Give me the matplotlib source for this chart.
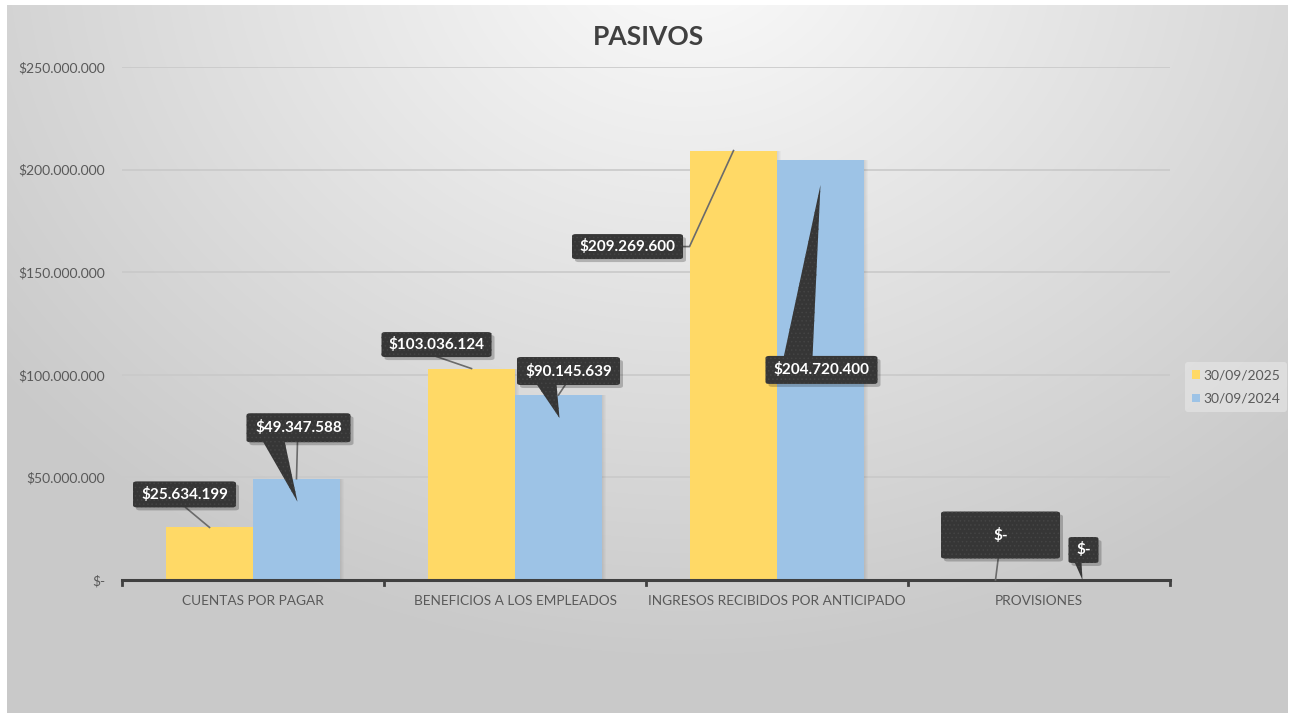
import numpy as np
import matplotlib
matplotlib.use("Agg")
import matplotlib.pyplot as plt
from matplotlib.patches import FancyBboxPatch, Polygon
from matplotlib.lines import Line2D
from matplotlib.ticker import FuncFormatter

# ---------------- data ----------------
categories = ["CUENTAS POR PAGAR", "BENEFICIOS A LOS EMPLEADOS",
              "INGRESOS RECIBIDOS POR ANTICIPADO", "PROVISIONES"]
series_names = ["30/09/2025", "30/09/2024"]
values_2025 = [25634199, 103036124, 209269600, 0]
values_2024 = [49347588, 90145639, 204720400, 0]
y_ticks = [0, 50000000, 100000000, 150000000, 200000000, 250000000]
title = "PASIVOS"

W, H = 1291, 714
DPI = 100
FONT = ["Lato", "DejaVu Sans"]
plt.rcParams["font.family"] = FONT
plt.rcParams["hatch.linewidth"] = 0.6

fig = plt.figure(figsize=(W / DPI, H / DPI), dpi=DPI)
fig.patch.set_facecolor("white")

# ---------------- background gradient ----------------
bg = fig.add_axes([7 / W, 1 / H, (1288 - 7) / W, (711 - 3) / H])
bg.set_axis_off()
yy, xx = np.mgrid[0:710, 0:1281]
d = np.sqrt(((xx - 680) / 1.2) ** 2 + ((yy + 60) * 1.0) ** 2)
val = 0.985 - d / 700 * 0.19
val = np.clip(val, 0.79, 0.98)
img = np.dstack([val, val, val])
bg.imshow(img, aspect="auto", extent=[0, 1, 0, 1], origin="upper")
bg.set_xlim(0, 1)
bg.set_ylim(0, 1)

# ---------------- main axes ----------------
ax_left, ax_right = 122, 1170
ax_top, ax_bottom = 67, 580
ax = fig.add_axes([ax_left / W, (H - ax_bottom) / H,
                   (ax_right - ax_left) / W, (ax_bottom - ax_top) / H])
ax.set_facecolor("none")
ax.patch.set_alpha(0)

x = np.arange(len(categories))
bw = 0.332
c_y = "#FFD966"
c_b = "#9DC3E6"

ax.set_xlim(-0.5, len(categories) - 0.5)
ax.set_ylim(0, 250000000)

for yt in y_ticks[1:]:
    ax.axhline(yt, color="#C9C9C9", lw=1.2, zorder=0)

# subtle shadows
for xi, v in zip(x - bw / 2, values_2025):
    if v > 0:
        for k in range(1, 5):
            ax.bar(xi + 0.004 * k, v, bw, color="black", alpha=0.025, zorder=1, lw=0)
for xi, v in zip(x + bw / 2, values_2024):
    if v > 0:
        for k in range(1, 5):
            ax.bar(xi + 0.004 * k, v, bw, color="black", alpha=0.025, zorder=1, lw=0)

b1 = ax.bar(x - bw / 2, values_2025, bw, color=c_y, label=series_names[0], zorder=2, lw=0)
b2 = ax.bar(x + bw / 2, values_2024, bw, color=c_b, label=series_names[1], zorder=2, lw=0)

for s in ["top", "right", "left"]:
    ax.spines[s].set_visible(False)
ax.spines["bottom"].set_color("#404040")
ax.spines["bottom"].set_linewidth(2.2)

ax.set_yticks(y_ticks)
ax.yaxis.set_major_formatter(FuncFormatter(
    lambda v, p: "$-" if v == 0 else "$" + f"{int(v):,}".replace(",", ".")))
ax.tick_params(axis="y", length=0, pad=12, labelsize=10, labelcolor="#595959")
ax.set_xticks(x)
ax.set_xticklabels(categories)
ax.tick_params(axis="x", length=0, pad=11, labelsize=9.8, labelcolor="#595959")
# category boundary ticks
for b in np.arange(-0.5, len(categories), 1.0):
    ax.plot([b, b], [0, -2200000], color="#404040", lw=2, clip_on=False, zorder=3)

fig.text(649 / W, 1 - 37 / H, title, ha="center", va="center",
         fontsize=19, fontweight="bold", color="#404040")

leg = ax.legend(handles=[b1, b2], loc="center left",
                bbox_to_anchor=(1178 / W, 1 - 387 / H), bbox_transform=fig.transFigure,
                frameon=True, fontsize=10, handlelength=0.6, handleheight=0.6,
                handletextpad=0.2, labelspacing=0.85, borderpad=0.5,
                labelcolor="#595959")
leg.get_frame().set_facecolor("#E8E8E8")
leg.get_frame().set_edgecolor("none")
leg.get_frame().set_alpha(0.6)

# ---------------- callouts ----------------
fig.canvas.draw()

def anchor_px(xv, v):
    dx, dy = ax.transData.transform((xv, v))
    return dx, H - dy

def to_fig(px, py):
    return px / W, 1 - py / H

BOX_FC = "#363636"
BOX_HC = "#444444"

def draw_box(cx, cy, w, h, text, fs=11):
    sh = FancyBboxPatch(to_fig(cx - w / 2 + 3, cy + h / 2 + 3),
                        w / W, h / H, boxstyle="round,pad=0,rounding_size=0.003",
                        transform=fig.transFigure, fc="black", ec="none",
                        alpha=0.22, zorder=20)
    fig.add_artist(sh)
    p = FancyBboxPatch(to_fig(cx - w / 2, cy + h / 2), w / W, h / H,
                       boxstyle="round,pad=0,rounding_size=0.003",
                       transform=fig.transFigure, fc=BOX_FC, ec=BOX_HC,
                       hatch="....", lw=0, zorder=21)
    fig.add_artist(p)
    fig.text(*to_fig(cx, cy), text, ha="center", va="center", color="white",
             fontsize=fs, fontweight="bold", zorder=23)

def draw_line(pts):
    xs = [p[0] / W for p in pts]
    ys = [1 - p[1] / H for p in pts]
    fig.add_artist(Line2D(xs, ys, color="#6b6b6b", lw=1.2, zorder=19,
                          transform=fig.transFigure))

def draw_wedge(pts):
    fig.add_artist(Polygon([to_fig(*p) for p in pts], closed=True,
                           transform=fig.transFigure, fc=BOX_FC, ec=BOX_HC,
                           hatch="....", lw=0, zorder=22))

def fmt(v):
    return "$-" if v == 0 else "$" + f"{int(v):,}".replace(",", ".")

ay = [anchor_px(xi, v) for xi, v in zip(x - bw / 2, values_2025)]
ab = [anchor_px(xi, v) for xi, v in zip(x + bw / 2, values_2024)]

# CUENTAS POR PAGAR
a = ay[0]
draw_line([(a[0] - 24, a[1] - 20), a])
draw_box(a[0] - 25, a[1] - 33, 103, 26, fmt(values_2025[0]))
a = ab[0]
draw_line([(a[0] + 1, a[1] - 37), a])
draw_wedge([(a[0] - 34, a[1] - 38), (a[0] - 12, a[1] - 38), (a[0] + 1, a[1] + 23)])
draw_box(a[0] + 2, a[1] - 51, 104, 29, fmt(values_2024[0]))

# BENEFICIOS
a = ay[1]
draw_line([(a[0] - 35, a[1] - 12), a])
draw_box(a[0] - 35, a[1] - 24, 110, 25, fmt(values_2025[1]))
a = ab[1]
draw_line([(a[0] + 8, a[1] - 12), a])
draw_wedge([(a[0] - 22, a[1] - 11), (a[0] - 2, a[1] - 11), (a[0] + 1, a[1] + 23)])
draw_box(a[0] + 10, a[1] - 24, 103, 28, fmt(values_2024[1]))

# INGRESOS
a = ay[2]
draw_line([(a[0] - 55, a[1] + 96), (a[0] - 44, a[1] + 96), a])
draw_box(a[0] - 106, a[1] + 96, 111, 25, fmt(values_2025[2]))
a = ab[2]
draw_wedge([(a[0] - 37, a[1] + 198), (a[0] - 8, a[1] + 198), (a[0], a[1] + 25)])
draw_box(a[0] + 1, a[1] + 210, 112, 28, fmt(values_2024[2]))

# PROVISIONES
a = ay[3]
draw_line([(a[0] + 3, a[1] - 24), a])
draw_box(a[0] + 5, a[1] - 45, 119, 47, fmt(values_2025[3]))
a = ab[3]
draw_wedge([(a[0] - 8, a[1] - 18), (a[0] - 1, a[1] - 18), (a[0], a[1])])
draw_box(a[0] + 1, a[1] - 30, 30, 26, fmt(values_2024[3]))

fig.savefig("out.png", dpi=DPI)
